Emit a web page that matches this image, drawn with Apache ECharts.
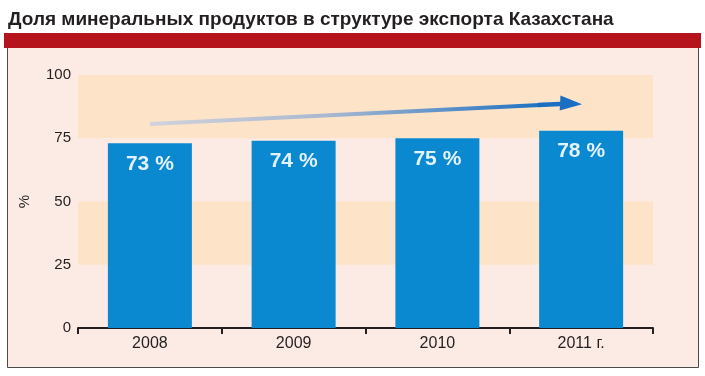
<!DOCTYPE html>
<html><head><meta charset="utf-8">
<script src="https://cdn.jsdelivr.net/npm/echarts@6/dist/echarts.min.js"></script>
<style>html,body{margin:0;padding:0;background:#fff}#c{width:705px;height:376px}</style>
</head><body><div id="c"></div>
<script>
var titleText = 'Доля минеральных продуктов в структуре экспорта Казахстана';
var categories = ['2008', '2009', '2010', '2011 г.'];
var shares = [73, 74, 75, 78];
var yTicks = [0, 25, 50, 75, 100];
// trend arrow, in (category position, %) units
var trendStart = [0, 80.6];
var trendMid = [2.75, 88.25];
var trendHeadStart = [2.7, 88.1];
var trendEnd = [2.93, 88.7];

var chart = echarts.init(document.getElementById('c'), null, {renderer: 'canvas'});
var font = '"Liberation Sans", Arial, sans-serif';
chart.setOption({
  animation: false,
  backgroundColor: '#ffffff',
  title: {
    text: titleText, left: 3, top: 5,
    textStyle: {fontFamily: font, fontSize: 19, fontWeight: 'bold', color: '#231f20'}
  },
  graphic: [
    {type: 'rect', z: -10, shape: {x: 7.5, y: 45, width: 691, height: 322.5},
     style: {fill: '#fcebe4', stroke: '#4a4a4a', lineWidth: 1}},
    {type: 'rect', z: -9, shape: {x: 4, y: 33, width: 697, height: 15},
     style: {fill: '#b5141c'}}
  ],
  grid: {left: 78, right: 52, top: 75, bottom: 48, containLabel: false},
  xAxis: [{
    type: 'category', data: categories,
    axisLine: {lineStyle: {color: '#231f20', width: 2}},
    axisTick: {show: true, length: 6, lineStyle: {color: '#231f20', width: 2}},
    axisLabel: {fontFamily: font, fontSize: 16, color: '#231f20', margin: 8}
  }, {
    type: 'value', show: false, min: -0.5, max: categories.length - 0.5
  }],
  yAxis: {
    type: 'value', min: yTicks[0], max: yTicks[yTicks.length - 1], interval: 25,
    name: '%', nameLocation: 'middle', nameGap: 46, nameRotate: 90,
    nameTextStyle: {fontFamily: font, fontSize: 15, color: '#231f20'},
    axisLine: {show: false}, axisTick: {show: false},
    splitLine: {show: false},
    splitArea: {show: true, areaStyle: {color: ['rgba(0,0,0,0)', '#fde4c8']}},
    axisLabel: {fontFamily: font, fontSize: 15, color: '#231f20', margin: 7}
  },
  series: [{
    type: 'bar', data: shares, barWidth: 84,
    itemStyle: {color: '#0a89d1'},
    label: {
      show: true, position: 'insideTop', distance: 10,
      formatter: '{c} %',
      fontFamily: font, fontSize: 21, fontWeight: 'bold', color: '#e4f2fb'
    }
  }, {
    type: 'line', xAxisIndex: 1, data: [], silent: true,
    markLine: {
      silent: true, animation: false,
      label: {show: false},
      data: [
        [{coord: trendStart, symbol: 'none',
          lineStyle: {width: 4, type: 'solid',
            color: new echarts.graphic.LinearGradient(0, 0, 1, 0, [
              {offset: 0, color: '#d2d3dc'},
              {offset: 0.45, color: '#a9b8d0'},
              {offset: 1, color: '#1a6fc2'}])}},
         {coord: trendMid, symbol: 'none'}],
        [{coord: trendHeadStart, symbol: 'none',
          lineStyle: {width: 4.5, type: 'solid', color: '#1a6fc2'}},
         {coord: trendEnd, symbol: 'triangle', symbolSize: [15, 22], symbolRotate: -93}]
      ]
    }
  }]
});
</script></body></html>
